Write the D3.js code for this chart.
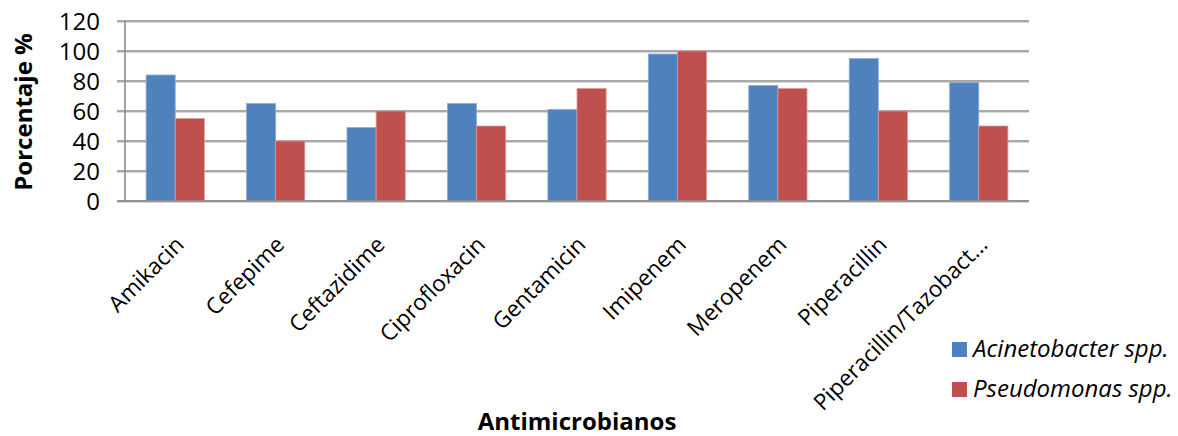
<!DOCTYPE html>
<html><head><meta charset="utf-8">
<script src="https://cdn.jsdelivr.net/npm/d3@7"></script>
<style>body{margin:0;background:#fff}svg{display:block}text{font-family:"Open Sans",sans-serif;fill:#000}</style>
</head><body>
<svg id="c" width="1178" height="436"></svg>
<script>
const categories = ["Amikacin","Cefepime","Ceftazidime","Ciprofloxacin","Gentamicin","Imipenem","Meropenem","Piperacillin","Piperacillin/Tazobact…"];
const seriesNames = ["Acinetobacter spp.","Pseudomonas spp."];
const acinetobacter = [84,65,49,65,61,98,77,95,79];
const pseudomonas = [55,40,60,50,75,100,75,60,50];
const yTicks = [0,20,40,60,80,100,120];
const colors = ["#4F81BD","#C0504D"];

const svg = d3.select("#c");
const L = 125, R = 1029, T = 21, B = 201;
const x = d3.scaleBand().domain(categories).range([L,R]).paddingInner(0).paddingOuter(0);
const y = d3.scaleLinear().domain([0,120]).range([B,T]);
const groupW = x.bandwidth()*0.58;
const xs = d3.scaleBand().domain([0,1]).range([-groupW/2, groupW/2]);

// gridlines
const grid = svg.append("g");
yTicks.forEach(t=>{
  grid.append("line").attr("x1",L-8).attr("x2",R).attr("y1",y(t)+1.5).attr("y2",y(t)+1.5)
    .attr("stroke","#d9d9d9").attr("stroke-width",1);
  grid.append("line").attr("x1",L-8).attr("x2",R).attr("y1",y(t)).attr("y2",y(t))
    .attr("stroke","#8c8c8c").attr("stroke-width",1.6);
});
svg.append("line").attr("x1",L).attr("x2",L).attr("y1",T).attr("y2",B)
  .attr("stroke","#8c8c8c").attr("stroke-width",1.6);

// bars
const data = [acinetobacter, pseudomonas];
data.forEach((vals,si)=>{
  svg.append("g").selectAll("rect").data(vals).join("rect")
    .attr("x",(d,i)=>x(categories[i])+x.bandwidth()/2+xs(si))
    .attr("width",xs.bandwidth())
    .attr("y",d=>y(d))
    .attr("height",d=>B-y(d))
    .attr("fill",colors[si])
    .attr("stroke",si===0?"#8eaedb":"#dc9a98").attr("stroke-width",0.8);
});
svg.append("line").attr("x1",L-8).attr("x2",R).attr("y1",B).attr("y2",B)
  .attr("stroke","#8c8c8c").attr("stroke-width",1.6);

// y axis labels
svg.append("g").selectAll("text").data(yTicks).join("text")
  .attr("x",100).attr("y",d=>y(d)).attr("dy","0.36em")
  .attr("text-anchor","end").attr("font-size",24).text(d=>d);

// x labels
svg.append("g").selectAll("text").data(categories).join("text")
  .attr("transform",d=>`translate(${x(d)+x.bandwidth()/2+10},246) rotate(-45)`)
  .attr("text-anchor","end").attr("font-size",22.5).text(d=>d);

// axis titles
svg.append("text").attr("transform","translate(32,112) rotate(-90)")
  .attr("text-anchor","middle").attr("font-size",24).attr("font-weight","bold").text("Porcentaje %");
svg.append("text").attr("x",577).attr("y",430)
  .attr("text-anchor","middle").attr("font-size",24).attr("font-weight","bold").text("Antimicrobianos");

// legend
const lg = svg.append("g");
seriesNames.forEach((n,i)=>{
  const yy = 342 + i*40;
  lg.append("rect").attr("x",952).attr("y",yy).attr("width",15).attr("height",15).attr("fill",colors[i]);
  lg.append("text").attr("x",973).attr("y",yy+15).attr("font-size",24).attr("font-style","italic").text(n);
});
</script>
</body></html>
